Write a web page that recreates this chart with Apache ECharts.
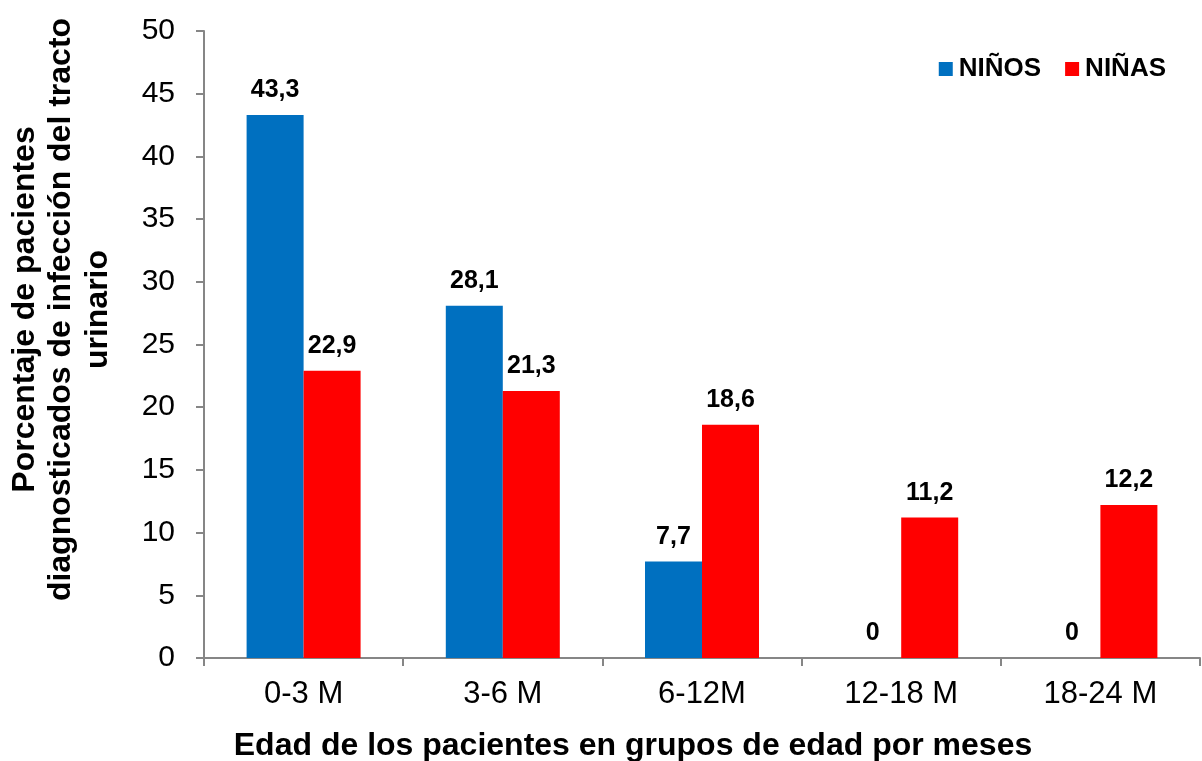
<!DOCTYPE html>
<html>
<head>
<meta charset="utf-8">
<script src="https://cdn.jsdelivr.net/npm/echarts@6/dist/echarts.min.js"></script>
<style>
  html, body { margin: 0; padding: 0; background: #fff; }
  #chart { width: 1202px; height: 761px; }
</style>
</head>
<body>
<div id="chart"></div>
<script>
// Age groups (months) and percentages of UTI diagnoses by sex
const categories = ['0-3 M', '3-6 M', '6-12M', '12-18 M', '18-24 M'];
const ninos = [43.3, 28.1, 7.7, 0, 0];
const ninas = [22.9, 21.3, 18.6, 11.2, 12.2];
const yTicks = { min: 0, max: 50, interval: 5 };

const FONT = '"Liberation Sans", Arial, sans-serif';
const AXIS_GRAY = '#868686';

const labelStyle = {
  show: true,
  position: 'top',
  distance: 12,
  fontFamily: FONT,
  fontWeight: 'bold',
  fontSize: 25,
  color: '#000',
  formatter: p => String(p.value).replace('.', ',')
};

const chart = echarts.init(document.getElementById('chart'));
chart.setOption({
  animation: false,
  textStyle: { fontFamily: FONT },
  grid: { left: 204, right: 2, top: 31, bottom: 103, containLabel: false, outerBoundsMode: 'none' },
  legend: {
    right: 31,
    top: 51,
    itemWidth: 14,
    itemHeight: 14,
    itemGap: 24,
    icon: 'rect',
    textStyle: { fontFamily: FONT, fontWeight: 'bold', fontSize: 26, color: '#000', padding: [0, 0, 0, 1] },
    data: ['NIÑOS', 'NIÑAS']
  },
  xAxis: {
    type: 'category',
    data: categories,
    name: 'Edad de los pacientes en grupos de edad por meses',
    nameLocation: 'middle',
    nameGap: 72,
    nameMoveOverlap: false,
    // right padding pulls the centred title towards the left edge
    nameTextStyle: { fontFamily: FONT, fontWeight: 'bold', fontSize: 32, color: '#000', padding: [0, 138, 0, 0] },
    axisLine: { lineStyle: { color: AXIS_GRAY, width: 2 } },
    axisTick: { show: true, length: 8, lineStyle: { color: AXIS_GRAY, width: 2 } },
    axisLabel: { fontFamily: FONT, fontSize: 31, color: '#000', margin: 21 }
  },
  yAxis: {
    type: 'value',
    min: yTicks.min,
    max: yTicks.max,
    interval: yTicks.interval,
    name: 'Porcentaje de pacientes\ndiagnosticados de infección del tracto\nurinario',
    nameLocation: 'middle',
    nameRotate: 90,
    nameGap: 88,
    nameMoveOverlap: false,
    nameTextStyle: {
      fontFamily: FONT, fontWeight: 'bold', fontSize: 32, color: '#000',
      lineHeight: 36.5, align: 'center', padding: [0, 0, 0, 70]
    },
    splitLine: { show: false },
    axisLine: { show: true, lineStyle: { color: AXIS_GRAY, width: 2 } },
    axisTick: { show: true, length: 8, lineStyle: { color: AXIS_GRAY, width: 2 } },
    axisLabel: { fontFamily: FONT, fontSize: 30, color: '#000', margin: 29 }
  },
  series: [
    {
      name: 'NIÑOS',
      type: 'bar',
      data: ninos,
      barWidth: 57,
      barGap: '0%',
      itemStyle: { color: '#0070C0' },
      label: labelStyle
    },
    {
      name: 'NIÑAS',
      type: 'bar',
      data: ninas,
      barWidth: 57,
      barGap: '0%',
      itemStyle: { color: '#FF0000' },
      label: labelStyle
    }
  ]
});
</script>
</body>
</html>
